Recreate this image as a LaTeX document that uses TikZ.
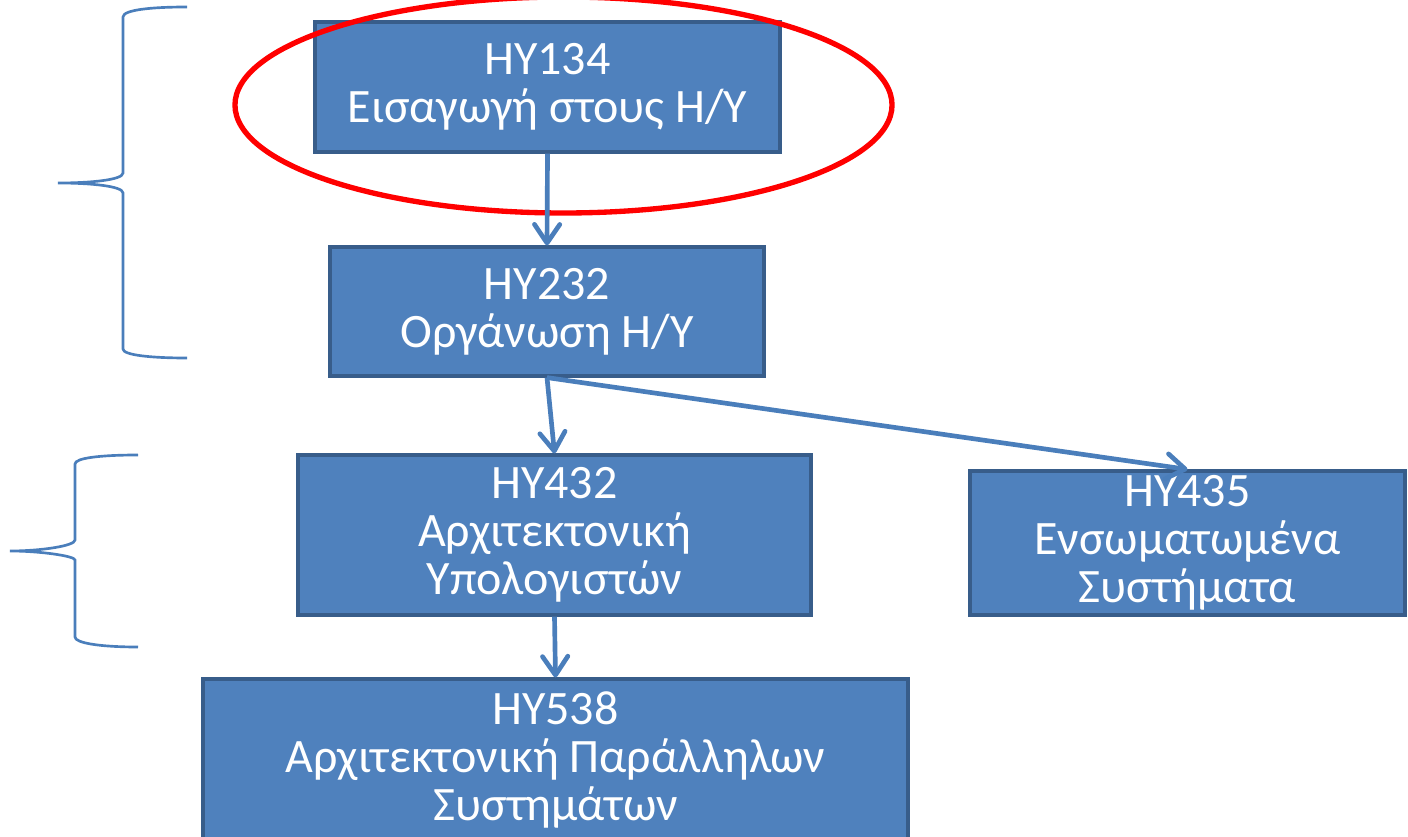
\documentclass[tikz,border=0pt]{standalone}
\usepackage{fontspec}
\setmainfont{Carlito}
\usetikzlibrary{arrows.meta}
\definecolor{boxfill}{RGB}{79,129,189}
\definecolor{boxline}{RGB}{56,93,138}
\definecolor{arrowc}{RGB}{74,126,187}
\definecolor{ringred}{RGB}{255,0,0}
\tikzset{
  course/.style={draw=boxline, line width=2.4pt, fill=boxfill, text=white, align=center,
    inner sep=0pt, font=\fontsize{36}{36}\selectfont},
  link/.style={draw=arrowc, line width=3.5pt, -{Straight Barb[length=14pt,width=19pt,line width=3.5pt,round]}},
  bracket/.style={draw=arrowc, line width=2pt}
}
\begin{document}
\begin{tikzpicture}[x=0.75pt,y=-0.75pt]
\useasboundingbox (0,0) rectangle (1408,837);
\node[course, minimum width=348.75pt, minimum height=97.5pt] (a) at (547.5,87) {ΗΥ134\\Εισαγωγή στους Η/Υ};
\node[course, minimum width=325.5pt, minimum height=96.75pt] (b) at (547,311.5) {ΗΥ232\\Οργάνωση Η/Υ};
\node[course, minimum width=384.75pt, minimum height=120pt] (c) at (554.5,535) {ΗΥ432\\Αρχιτεκτονική\\Υπολογιστών};
\node[course, minimum width=326.25pt, minimum height=108pt] (d) at (1187.5,543) {ΗΥ435\\Ενσωματωμένα\\Συστήματα};
\node[course, minimum width=528.75pt, minimum height=121.5pt] (e) at (555.5,760) {ΗΥ538\\Αρχιτεκτονική Παράλληλων\\Συστημάτων};
\draw[ringred, line width=4pt] (563.5,105) ellipse [x radius=246.4pt, y radius=81pt];
\draw[link] (a.south) -- (b.north);
\draw[link] (b.south) -- (c.north);
\draw[link] (b.south) -- (d.north);
\draw[link] (c.south) -- (e.north);
\draw[bracket] (187,7) .. controls (150,7) and (123,10) .. (123,17) -- (123,173)
  .. controls (123,180) and (90,183) .. (58,183)
  .. controls (90,183) and (123,186) .. (123,193) -- (123,349)
  .. controls (123,355) and (150,358) .. (187,358);
\draw[bracket] (138,455) .. controls (100,455) and (75,458) .. (75,464) -- (75,540)
  .. controls (75,546) and (40,551) .. (10,551)
  .. controls (40,551) and (75,556) .. (75,560) -- (75,637)
  .. controls (75,643) and (100,647) .. (138,647);
\end{tikzpicture}
\end{document}
